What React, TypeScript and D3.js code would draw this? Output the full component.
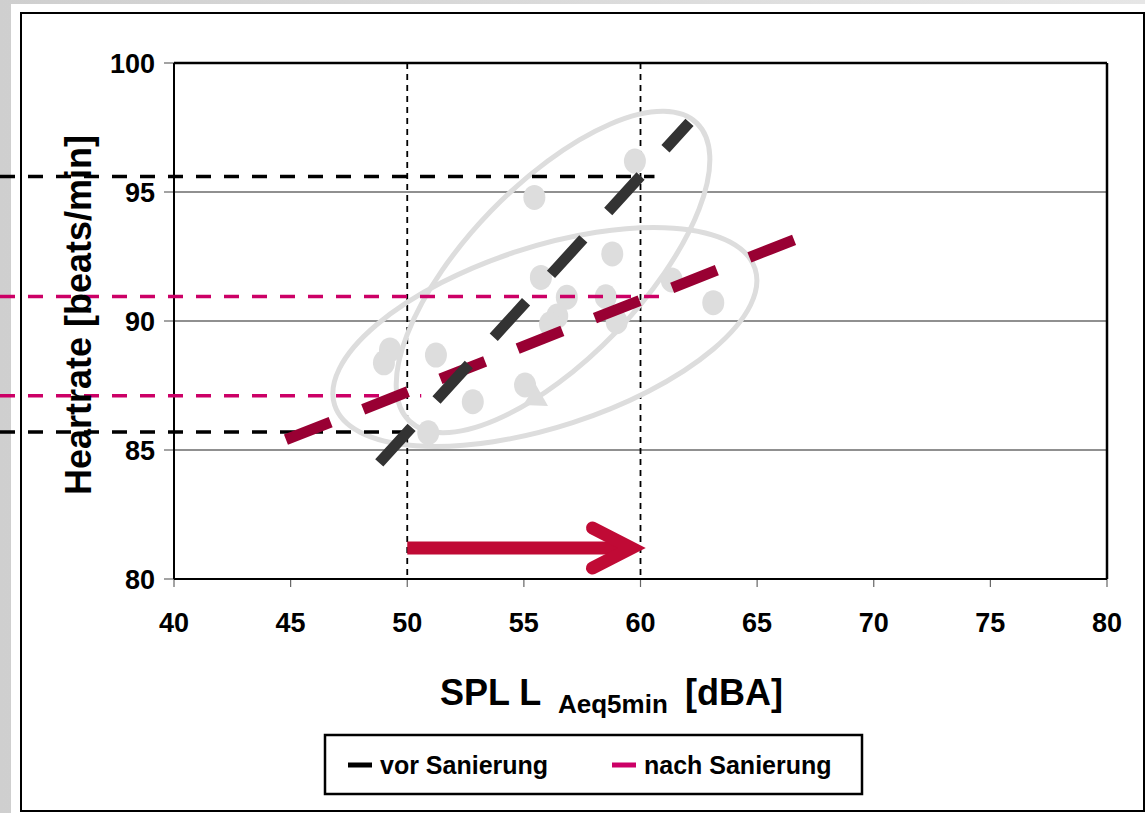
import * as d3 from 'd3';

const W = 1145;
const H = 813;

// axis ticks
const xTicks = [40, 45, 50, 55, 60, 65, 70, 75, 80];
const yTicks = [80, 85, 90, 95, 100];
const gridY = [85, 90, 95];
const markerX = [50, 60];

// measured points (SPL, heart rate)
const pointsX = [59.76, 55.45, 58.79, 55.73, 56.84, 58.51, 61.34, 63.12, 56.43, 56.12, 58.98, 49.26, 49.0, 51.23, 52.81, 55.05, 50.9];
const pointsY = [96.2, 94.79, 92.6, 91.69, 90.92, 90.94, 91.59, 90.71, 90.19, 89.88, 89.97, 88.88, 88.38, 88.68, 86.87, 87.52, 85.67];

// regression lines
const vorX = [48.8, 62.1];
const vorY = [84.5, 97.7];
const nachX = [44.8, 67.3];
const nachY = [85.4, 93.4];

// read-off lines at 50 / 60 dBA
const vorRefY = [85.7, 95.6];
const vorRefEnd = [50.1, 60.6];
const nachRefY = [87.1, 90.95];
const nachRefEnd = [50.6, 61.2];

// shift arrow
const arrowX = [50, 60];
const arrowY = 81.2;

// cluster ellipses (centres)
const clusterX = [56.25, 55.9];
const clusterY = [91.9, 89.38];
const clusterTilt = [-46, -18];

const FONT = '"Liberation Sans", Arial, Helvetica, sans-serif';

export default function App() {
  const left = 174, right = 1107, top = 63, bottom = 579;
  const x = d3.scaleLinear().domain([40, 80]).range([left, right]);
  const y = d3.scaleLinear().domain([80, 100]).range([bottom, top]);

  const line = d3.line<[number, number]>().x(d => x(d[0])).y(d => y(d[1]));
  const vorPath = line(vorX.map((v, i) => [v, vorY[i]]) as [number, number][]) || '';
  const nachPath = line(nachX.map((v, i) => [v, nachY[i]]) as [number, number][]) || '';

  const ellipseR = [[207, 87], [221, 90]];

  const ax0 = x(arrowX[0]);
  const ax1 = x(arrowX[1]);
  const ay = y(arrowY);

  // little arrowhead on the lower cluster outline
  const tri = `M${x(55.05) - 2},${y(87.52) + 20} L${x(55.05) + 23},${y(87.52) + 21} L${x(55.05) + 11},${y(87.52)} Z`;

  return (
    <div>
      <style>{'body{margin:0}'}</style>
      <svg width={W} height={H} style={{ display: 'block' }}>
        <defs>
          <linearGradient id="bg" x1="0" y1="0" x2="1" y2="0">
            <stop offset="0" stopColor="#cfcfcf" />
            <stop offset="1" stopColor="#e6e6e6" />
          </linearGradient>
        </defs>
        <rect x={0} y={0} width={W} height={H} fill="url(#bg)" />
        <rect x={11} y={4} width={W - 11} height={H - 4} fill="#fff" />
        <rect x={21} y={13} width={W - 22} height={H - 15} fill="#fff" stroke="#000" strokeWidth={2} />

        {/* grid */}
        {gridY.map(v => (
          <line key={v} x1={left} x2={right} y1={y(v)} y2={y(v)} stroke="#222" strokeWidth={1.2} />
        ))}

        {/* ticks */}
        {yTicks.map(v => (
          <line key={'yt' + v} x1={left - 10} x2={left} y1={y(v)} y2={y(v)} stroke="#666" strokeWidth={1.2} />
        ))}
        {xTicks.map(v => (
          <line key={'xt' + v} x1={x(v)} x2={x(v)} y1={bottom} y2={bottom + 8} stroke="#666" strokeWidth={1.2} />
        ))}

        {/* plot frame */}
        <line x1={left} x2={right} y1={top} y2={top} stroke="#000" strokeWidth={2.5} />
        <line x1={right} x2={right} y1={top} y2={bottom} stroke="#000" strokeWidth={2.5} />
        <line x1={left} x2={left} y1={top} y2={bottom} stroke="#000" strokeWidth={2} />
        <line x1={left} x2={right} y1={bottom} y2={bottom} stroke="#000" strokeWidth={2} />

        {/* vertical dotted markers */}
        {markerX.map(v => (
          <line key={'mx' + v} x1={x(v)} x2={x(v)} y1={top} y2={bottom} stroke="#000" strokeWidth={1.8} strokeDasharray="6,5" />
        ))}

        {/* cluster ellipses */}
        {clusterX.map((cx, i) => (
          <ellipse key={'el' + i} cx={0} cy={0} rx={ellipseR[i][0]} ry={ellipseR[i][1]}
            transform={`translate(${x(cx)},${y(clusterY[i])}) rotate(${clusterTilt[i]})`}
            fill="none" stroke="#dddddd" strokeWidth={5} />
        ))}

        {/* points */}
        {pointsX.map((px, i) => (
          <ellipse key={'p' + i} cx={x(px)} cy={y(pointsY[i])} rx={11} ry={12.5} fill="#dddddd" />
        ))}
        <path d={tri} fill="#dddddd" />

        {/* read-off lines */}
        {vorRefY.map((v, i) => (
          <line key={'vr' + i} x1={0} x2={x(vorRefEnd[i])} y1={y(v)} y2={y(v)} stroke="#000" strokeWidth={3.5} strokeDasharray="15,13" />
        ))}
        {nachRefY.map((v, i) => (
          <line key={'nr' + i} x1={0} x2={x(nachRefEnd[i])} y1={y(v)} y2={y(v)} stroke="#cc0066" strokeWidth={3.5} strokeDasharray="15,13" />
        ))}

        {/* regression lines */}
        <path d={nachPath} stroke="#990033" strokeWidth={11} strokeDasharray="48,35" fill="none" />
        <path d={vorPath} stroke="#333333" strokeWidth={11} strokeDasharray="48,37" fill="none" />

        {/* arrow */}
        <line x1={ax0} x2={ax1 - 14} y1={ay} y2={ay} stroke="#c00a35" strokeWidth={13} />
        <path d={`M${ax1 - 48},${ay - 20} L${ax1 - 9},${ay} L${ax1 - 48},${ay + 20}`} stroke="#c00a35" strokeWidth={13}
          fill="none" strokeLinecap="round" strokeLinejoin="miter" />

        {/* tick labels */}
        {yTicks.map(v => (
          <text key={'yl' + v} x={155} y={y(v)} dy="0.36em" textAnchor="end" fontFamily={FONT} fontWeight="bold" fontSize={27}>{v}</text>
        ))}
        {xTicks.map(v => (
          <text key={'xl' + v} x={x(v)} y={632} textAnchor="middle" fontFamily={FONT} fontWeight="bold" fontSize={27}>{v}</text>
        ))}

        {/* axis titles */}
        <text transform="translate(91,315) rotate(-90)" textAnchor="middle" fontFamily={FONT} fontWeight="bold" fontSize={36}>Heartrate [beats/min]</text>
        <text x={440} y={705} fontFamily={FONT} fontWeight="bold" fontSize={36}>SPL L</text>
        <text x={558} y={713} fontFamily={FONT} fontWeight="bold" fontSize={26}>Aeq5min</text>
        <text x={685} y={705} fontFamily={FONT} fontWeight="bold" fontSize={36}>[dBA]</text>

        {/* legend */}
        <rect x={325} y={735} width={537} height={59} fill="#fff" stroke="#000" strokeWidth={2.5} />
        <line x1={348} x2={372} y1={765} y2={765} stroke="#000" strokeWidth={5} />
        <text x={380} y={774} fontFamily={FONT} fontWeight="bold" fontSize={25}>vor Sanierung</text>
        <line x1={612} x2={636} y1={765} y2={765} stroke="#cc0066" strokeWidth={5} />
        <text x={644} y={774} fontFamily={FONT} fontWeight="bold" fontSize={25}>nach Sanierung</text>
      </svg>
    </div>
  );
}
